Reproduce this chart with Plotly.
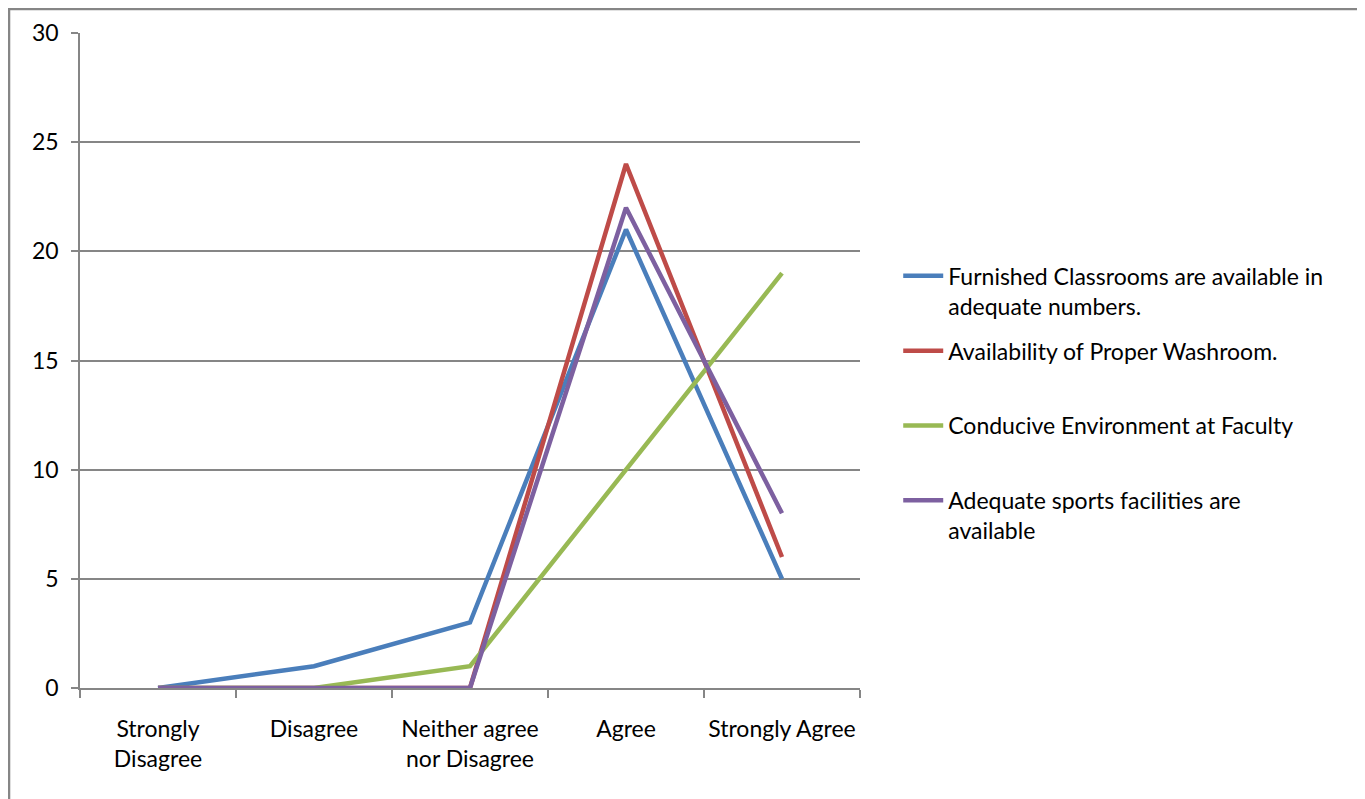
import plotly.graph_objects as go

categories = ["Strongly<br>Disagree", "Disagree", "Neither agree<br>nor Disagree", "Agree", "Strongly Agree"]

classrooms = [0, 1, 3, 21, 5]
washroom = [0, 0, 0, 24, 6]
environment = [0, 0, 1, 10, 19]
sports = [0, 0, 0, 22, 8]

series_names = [
    "Furnished Classrooms are available in<br>adequate numbers.",
    "Availability of Proper Washroom.<br> ",
    "Conducive Environment at Faculty<br> ",
    "Adequate sports facilities are<br>available",
]
series_values = [classrooms, washroom, environment, sports]
colors = ["#4A7EBB", "#BE4B48", "#98B954", "#7D60A0"]

GRID = "#868686"

fig = go.Figure()
for i, (name, vals, col) in enumerate(zip(series_names, series_values, colors)):
    fig.add_trace(go.Scatter(
        x=categories, y=vals, name=name, mode="lines",
        line=dict(color=col, width=4.5), legendgroup=f"g{i}",
    ))

# outer chart border (page has an 8px body margin, figure is 1357x791)
fig.add_shape(type="rect", xref="paper", yref="paper",
              x0=-0.0910, x1=1.6449, y0=-0.4, y1=1.0366,
              line=dict(color=GRID, width=2.5), layer="below")

fig.update_layout(
    width=1357, height=791,
    margin=dict(l=72, r=505, t=25, b=111, autoexpand=False),
    paper_bgcolor="white", plot_bgcolor="white",
    font=dict(family="Lato, Open Sans, sans-serif", size=23, color="black"),
    showlegend=True,
    legend=dict(x=1.049, y=0.662, xanchor="left", yanchor="top",
                valign="top", traceorder="grouped", tracegroupgap=12,
                font=dict(size=23), itemwidth=40),
)
fig.update_xaxes(
    type="category", range=[-0.5, 4.5], tickangle=0, automargin=False,
    showline=True, linecolor=GRID, linewidth=1.5,
    ticks="outside", tickson="boundaries", ticklen=8, tickcolor=GRID, tickwidth=1.5,
    showgrid=False, ticklabelstandoff=20,
)
fig.update_yaxes(
    range=[0, 30], dtick=5, automargin=False,
    showline=True, linecolor=GRID, linewidth=1.5,
    showgrid=True, gridcolor=GRID, gridwidth=1.5,
    ticks="outside", ticklen=7, tickcolor=GRID, tickwidth=1.5,
    zeroline=False, ticklabelstandoff=8,
)

fig.write_html("out.html")
